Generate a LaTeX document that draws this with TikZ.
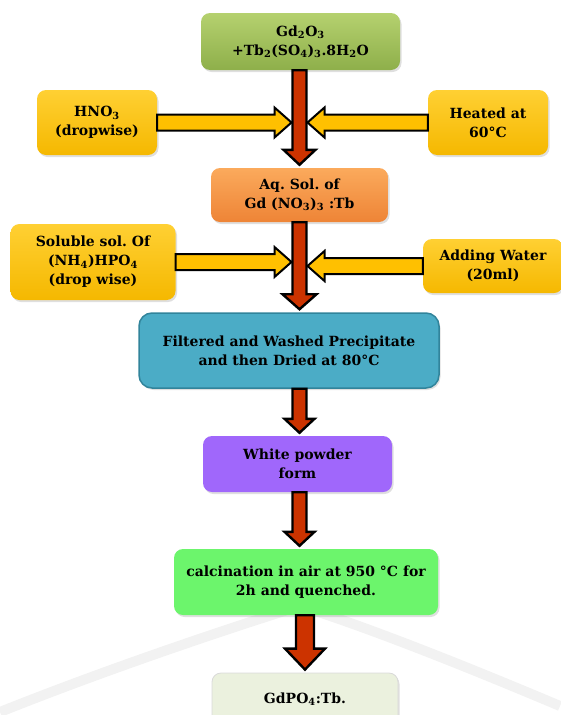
\documentclass[tikz,border=0pt]{standalone}
\usepackage{fontspec}
\newfontfamily\stepfont{DejaVu Serif}
\usetikzlibrary{calc,shadows}
\frenchspacing
\definecolor{oliveTop}{HTML}{B5D16F}
\definecolor{oliveBot}{HTML}{8EAF4A}
\definecolor{goldTop}{HTML}{FFD033}
\definecolor{goldBot}{HTML}{F5B800}
\definecolor{orngTop}{HTML}{FBAA5C}
\definecolor{orngBot}{HTML}{EE8436}
\definecolor{tealFill}{HTML}{4BACC6}
\definecolor{tealLine}{HTML}{31849B}
\definecolor{violet}{HTML}{A067FB}
\definecolor{lime}{HTML}{6CF56C}
\definecolor{paleGreen}{HTML}{EBF1DE}
\definecolor{brick}{HTML}{CC3300}
\definecolor{gold}{HTML}{FFC000}
\tikzset{
  stepbox/.style={rounded corners=9pt, align=center, inner sep=0pt,
    font=\stepfont\fontsize{14}{19}\selectfont\bfseries,
    drop shadow={opacity=0.25, shadow xshift=1.5pt, shadow yshift=-2pt}},
  startbox/.style={stepbox, top color=oliveTop, bottom color=oliveBot},
  addbox/.style={stepbox, top color=goldTop, bottom color=goldBot},
  solbox/.style={stepbox, top color=orngTop, bottom color=orngBot},
  washbox/.style={stepbox, fill=tealFill, draw=tealLine, line width=1.5pt, rounded corners=13pt},
  powderbox/.style={stepbox, fill=violet},
  firebox/.style={stepbox, fill=lime},
  endbox/.style={stepbox, fill=paleGreen, draw=black!15, line width=0.8pt},
  redarrow/.style={fill=brick, draw=black, line width=2.4pt},
  yellowarrow/.style={fill=gold, draw=black, line width=2pt},
}
\begin{document}
\begin{tikzpicture}[x=1pt, y=-1pt]
\useasboundingbox (0,0) rectangle (560,715);
\draw[black!5, line width=10pt] (0,712) .. controls (110,668) and (230,628) .. (300,606) .. controls (370,628) and (470,668) .. (560,706);
\node[startbox, minimum width=199pt, minimum height=57pt] (src) at (300.5,41.5) {Gd\textsubscript{2}O\textsubscript{3}\\+Tb\textsubscript{2}(SO\textsubscript{4})\textsubscript{3}.8H\textsubscript{2}O};
\node[addbox, minimum width=120pt, minimum height=65pt] (hno) at (97,122.5) {HNO\textsubscript{3}\\(dropwise)};
\node[addbox, minimum width=120pt, minimum height=65pt] (heat) at (488,122.5) {Heated at\\60°C};
\node[solbox, minimum width=177pt, minimum height=54pt] (aq) at (299.5,195) {Aq. Sol. of\\Gd (NO\textsubscript{3})\textsubscript{3} :Tb};
\node[addbox, minimum width=165pt, minimum height=76pt] (sol) at (93,262) {Soluble sol. Of\\(NH\textsubscript{4})HPO\textsubscript{4}\\(drop wise)};
\node[addbox, minimum width=140pt, minimum height=54pt] (water) at (493,266) {Adding Water\\(20ml)};
\node[washbox, minimum width=300pt, minimum height=75pt] (filt) at (289,350.5) {Filtered and Washed Precipitate\\and then Dried at 80°C};
\node[powderbox, minimum width=189pt, minimum height=56pt] (white) at (297.5,464) {White powder\\form};
\node[firebox, minimum width=264pt, minimum height=66pt] (calc) at (306,582) {calcination in air at 950 °C for\\2h and quenched.};
\node[endbox, minimum width=186pt, minimum height=52pt] (prod) at (305,699) {GdPO\textsubscript{4}:Tb.};
\foreach \a/\b/\c/\sw/\hw/\hl in {src/aq/aq/7/16/15, aq/filt/aq/7/17/15, filt/white/aq/7/15/14, white/calc/aq/7/15/14, calc/prod/prod/9/20/21}
  \draw[redarrow] let \p1=(\a.south), \p2=(\b.north), \p3=(\c.north) in
    (\x3-\sw pt,\y1) -- (\x3-\sw pt,\y2+3pt+\hl pt) -- (\x3-\hw pt,\y2+3pt+\hl pt) -- (\x3,\y2+3pt)
    -- (\x3+\hw pt,\y2+3pt+\hl pt) -- (\x3+\sw pt,\y2+3pt+\hl pt) -- (\x3+\sw pt,\y1) -- cycle;
\foreach \a/\b in {hno/src, sol/aq}
  \draw[yellowarrow] let \p1=(\a.east), \p2=(\b.south), \p3=(aq.north) in
    (\x1,\y1+8pt) -- (\x3-25pt,\y1+8pt) -- (\x3-25pt,\y1+15pt) -- (\x3-8pt,\y1)
    -- (\x3-25pt,\y1-15pt) -- (\x3-25pt,\y1-8pt) -- (\x1,\y1-8pt) -- cycle;
\foreach \a/\b in {heat/src, water/aq}
  \draw[yellowarrow] let \p1=(\a.west), \p2=(\b.south), \p3=(aq.north) in
    (\x1,\y1+8pt) -- (\x3+25pt,\y1+8pt) -- (\x3+25pt,\y1+15pt) -- (\x3+8pt,\y1)
    -- (\x3+25pt,\y1-15pt) -- (\x3+25pt,\y1-8pt) -- (\x1,\y1-8pt) -- cycle;
\end{tikzpicture}
\end{document}
